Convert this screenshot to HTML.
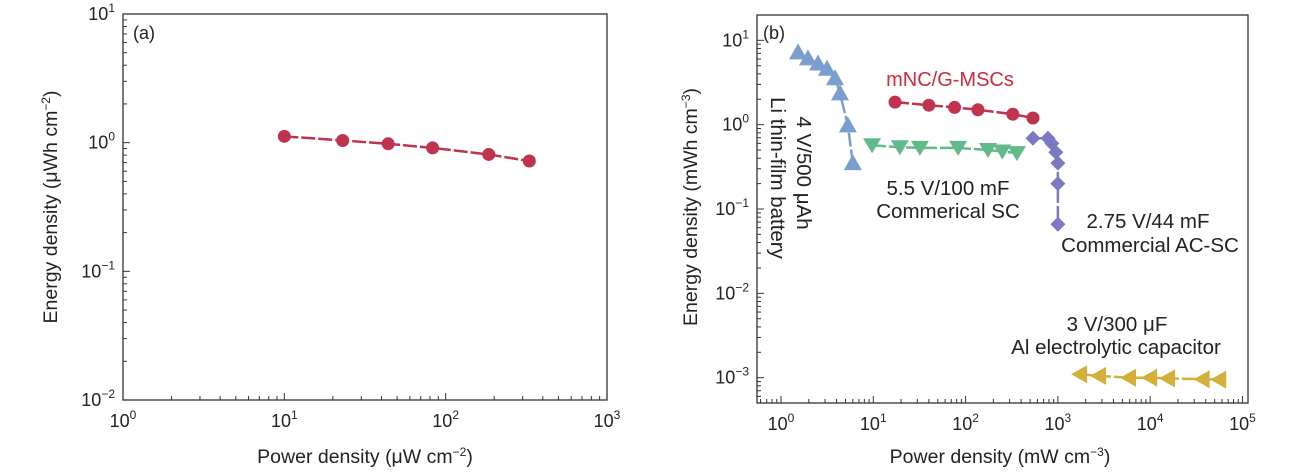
<!DOCTYPE html>
<html><head><meta charset="utf-8"><style>
html,body{margin:0;padding:0;background:#fff;}
svg{display:block;font-family:"Liberation Sans",sans-serif;}
</style></head><body>
<svg id="chart" width="1290" height="474" viewBox="0 0 1290 474" xmlns="http://www.w3.org/2000/svg"></svg>
<script>
// Panel (a) data
const aPower = [10, 23, 44, 83, 185, 330];
const aEnergy = [1.12, 1.04, 0.98, 0.91, 0.81, 0.72];
// Panel (b) data
const liPower = [1.53, 1.96, 2.52, 3.15, 3.85, 4.36, 5.3, 6.0];
const liEnergy = [7.2, 6.1, 5.3, 4.6, 3.55, 2.35, 0.98, 0.35];
const mscPower = [17.2, 40, 76, 136, 325, 537];
const mscEnergy = [1.85, 1.7, 1.6, 1.5, 1.33, 1.2];
const scPower = [9.7, 19.4, 32, 83, 175, 250, 360];
const scEnergy = [0.57, 0.54, 0.53, 0.53, 0.5, 0.48, 0.46];
const acPower = [537, 780, 860, 950, 1000, 1000, 1000];
const acEnergy = [0.69, 0.69, 0.6, 0.47, 0.35, 0.2, 0.066];
const alPower = [1740, 2790, 5900, 10000, 15600, 37000, 56000];
const alEnergy = [0.00110, 0.00105, 0.00100, 0.00100, 0.00098, 0.00096, 0.00095];
const aXTicks = [0, 1, 2, 3];
const aYTicks = [-2, -1, 0, 1];
const bXTicks = [0, 1, 2, 3, 4, 5];
const bYTicks = [-3, -2, -1, 0, 1];

const NS = "http://www.w3.org/2000/svg";
const svg = document.getElementById('chart');
function mk(tag, attrs, parent){const e=document.createElementNS(NS,tag);for(const k in attrs)e.setAttribute(k,attrs[k]);(parent||svg).appendChild(e);return e;}
function logScale(d0,d1,r0,r1){return v=>r0+(Math.log10(v)-d0)/(d1-d0)*(r1-r0);}

function axes(g,L,R,T,B,xs,ys,xd,yd,xt,yt){
  const box=mk('rect',{x:L,y:T,width:R-L,height:B-T,fill:'none',stroke:'#333','stroke-width':1.3},g);
  
  
  for(let d=Math.floor(xd[0]);d<=Math.ceil(xd[1]);d++){for(let m=1;m<10;m++){const v=m*Math.pow(10,d);const lv=Math.log10(v);if(lv<xd[0]-1e-9||lv>xd[1]+1e-9)continue;const x=xs(v);const len=m===1?7:4;
    mk('line',{x1:x,y1:B,x2:x,y2:B-len,stroke:'#333','stroke-width':1},g);}}
  for(let d=Math.floor(yd[0]);d<=Math.ceil(yd[1]);d++){for(let m=1;m<10;m++){const v=m*Math.pow(10,d);const lv=Math.log10(v);if(lv<yd[0]-1e-9||lv>yd[1]+1e-9)continue;const y=ys(v);const len=m===1?7:4;
    mk('line',{x1:L,y1:y,x2:L+len,y2:y,stroke:'#333','stroke-width':1},g);}}
  xt.forEach(p=>{const t=mk('text',{x:xs(Math.pow(10,p)),y:B+27,'text-anchor':'middle','font-size':18,fill:'#222'},g);
    
    t.textContent='10';const s=mk('tspan',{dy:-8,'font-size':12},t);s.textContent=String(p).replace('-','\u2212');});
  yt.forEach(p=>{const t=mk('text',{x:L-8,y:ys(Math.pow(10,p))+6,'text-anchor':'end','font-size':18,fill:'#222'},g);
    
    t.textContent='10';const s=mk('tspan',{dy:-8,'font-size':12},t);s.textContent=String(p).replace('-','\u2212');});
}
function marker(g,type,x,y,c){
  let e;
  if(type==='circle')e=mk('circle',{cx:x,cy:y,r:6.5,fill:c},g);
  else if(type==='up')e=mk('polygon',{points:`${x},${y-9} ${x-9},${y+7} ${x+9},${y+7}`,fill:c},g);
  else if(type==='down')e=mk('polygon',{points:`${x},${y+8} ${x-9},${y-7} ${x+9},${y-7}`,fill:c},g);
  else if(type==='diamond')e=mk('polygon',{points:`${x},${y-7.5} ${x+7.5},${y} ${x},${y+7.5} ${x-7.5},${y}`,fill:c},g);
  else e=mk('polygon',{points:`${x-9},${y} ${x+7},${y-9} ${x+7},${y+9}`,fill:c},g);
  
  
}
function series(g,xs,ys,px,py,type,c,name){
  const sg=mk('g',{},g);
  
  
  const pts=px.map((v,i)=>xs(v)+','+ys(py[i])).join(' ');
  mk('polyline',{points:pts,fill:'none',stroke:c,'stroke-width':2.5,'stroke-dasharray':'14 3'},sg);
  px.forEach((v,i)=>marker(sg,type,xs(v),ys(py[i]),c));
}
function text(g,x,y,s,size,name,extra){const t=mk('text',Object.assign({x:x,y:y,'font-size':size,fill:'#222'},extra||{}),g);t.textContent=s;
  return t;}

// Panel a
const ga=mk('g',{});


const aL=123,aR=607,aT=14,aB=400;
const axs=logScale(0,3,aL,aR), ays=logScale(-2,1,aB,aT);
axes(ga,aL,aR,aT,aB,axs,ays,[0,3],[-2,1],aXTicks,aYTicks);
series(ga,axs,ays,aPower,aEnergy,'circle','#c0334f','series-a');
text(ga,133,39,'(a)',18,'panel-label-a');
const axT=text(ga,365,463,'Power density (\u03bcW cm',19.5,'x-axis-title-a',{'text-anchor':'middle'});
{const s=mk('tspan',{dy:-7,'font-size':12},axT);s.textContent='\u22122';const s2=mk('tspan',{dy:7},axT);s2.textContent=')';}
const ayT=text(ga,0,0,'Energy density (\u03bcWh cm',19.5,'y-axis-title-a',{'text-anchor':'middle',transform:'translate(57,207) rotate(-90)'});
{const s=mk('tspan',{dy:-7,'font-size':12},ayT);s.textContent='\u22122';const s2=mk('tspan',{dy:7},ayT);s2.textContent=')';}

// Panel b
const gb=mk('g',{});


const bL=757,bR=1248,bT=15,bB=403;
const bxs=logScale(-0.26,5.06,bL,bR), bys=logScale(-3.3,1.3,bB,bT);
axes(gb,bL,bR,bT,bB,bxs,bys,[-0.26,5.06],[-3.3,1.3],bXTicks,bYTicks);
series(gb,bxs,bys,liPower,liEnergy,'up','#7a9fcf','series-li-battery');
series(gb,bxs,bys,scPower,scEnergy,'down','#62b98a','series-commercial-sc');
series(gb,bxs,bys,acPower,acEnergy,'diamond','#7d78c2','series-ac-sc');
series(gb,bxs,bys,mscPower,mscEnergy,'circle','#c0334f','series-mnc-g-mscs');
series(gb,bxs,bys,alPower,alEnergy,'left','#d4b03a','series-al-capacitor');
text(gb,763,39,'(b)',18,'panel-label-b');
text(gb,950,86,'mNC/G-MSCs',20,'label-mnc-g-mscs',{fill:'#d02a3c','text-anchor':'middle'});
text(gb,948,195,'5.5 V/100 mF',20.5,'label-sc-1',{'text-anchor':'middle'});
text(gb,948,218,'Commerical SC',20.5,'label-sc-2',{'text-anchor':'middle'});
text(gb,1148,228,'2.75 V/44 mF',20.5,'label-ac-1',{'text-anchor':'middle'});
text(gb,1150,252,'Commercial AC-SC',20.5,'label-ac-2',{'text-anchor':'middle'});
text(gb,1117,331,'3 V/300 \u03bcF',20.5,'label-al-1',{'text-anchor':'middle'});
text(gb,1116,354,'Al electrolytic capacitor',20.5,'label-al-2',{'text-anchor':'middle'});
text(gb,0,0,'4 V/500 \u03bcAh',20.5,'label-li-1',{'text-anchor':'middle',transform:'translate(797,173) rotate(90)'});
text(gb,0,0,'Li thin-film battery',20.5,'label-li-2',{'text-anchor':'middle',transform:'translate(771,178) rotate(90)'});
const bxT=text(gb,1000,463,'Power density (mW cm',19.5,'x-axis-title-b',{'text-anchor':'middle'});
{const s=mk('tspan',{dy:-7,'font-size':12},bxT);s.textContent='\u22123';const s2=mk('tspan',{dy:7},bxT);s2.textContent=')';}
const byT=text(gb,0,0,'Energy density (mWh cm',19.5,'y-axis-title-b',{'text-anchor':'middle',transform:'translate(697,207) rotate(-90)'});
{const s=mk('tspan',{dy:-7,'font-size':12},byT);s.textContent='\u22123';const s2=mk('tspan',{dy:7},byT);s2.textContent=')';}
</script>
</body></html>
